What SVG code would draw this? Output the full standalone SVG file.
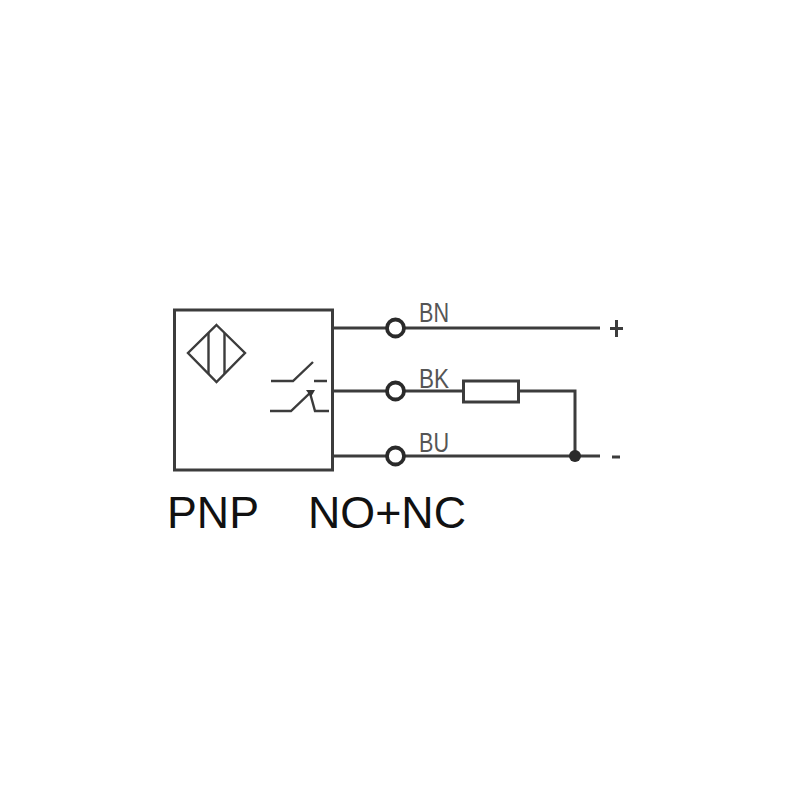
<svg xmlns="http://www.w3.org/2000/svg" width="800" height="800" viewBox="0 0 800 800">
<style>
.l{fill:none;stroke:#3c3c3c;stroke-width:3;stroke-linejoin:miter}
.t{stroke-width:2.400}
.c{fill:#fff;stroke:#2a2a2a;stroke-width:3.800}
.w{font-family:"Liberation Sans",Arial,sans-serif;font-size:27px;fill:#555}
.b{font-family:"Liberation Sans",Arial,sans-serif;font-size:44px;fill:#111}
</style>
<rect width="800" height="800" fill="#fff"/>
<g id="connectors">
<path class="l" d="M333 328H600"/>
<path class="l" d="M333 391H463M519 391H575V456"/>
<path class="l" d="M333 456H600"/>
</g>
<g id="sensor">
<rect class="l" x="174.500" y="310" width="158" height="160"/>
<path class="l t" d="M216.500 325L245 353L216.500 382L188 353Z"/>
<path class="l t" d="M208.500 333V374M224.500 333V374"/>
<path class="l t" d="M271 381H293L313 362M314 381H327"/>
<path class="l t" d="M270 411H291L310 393L315 411H329"/>
<path d="M306 390H315L311 397Z" fill="#333"/>
</g>
<g id="terminal-bn"><circle class="c" cx="395.500" cy="328" r="8.500"/><text class="w" x="419" y="322" textLength="30" lengthAdjust="spacingAndGlyphs">BN</text></g>
<g id="terminal-bk"><circle class="c" cx="395.500" cy="391" r="8.500"/><text class="w" x="419" y="387.500" textLength="30" lengthAdjust="spacingAndGlyphs">BK</text></g>
<g id="terminal-bu"><circle class="c" cx="395.500" cy="456" r="8.500"/><text class="w" x="419" y="451.500" textLength="30" lengthAdjust="spacingAndGlyphs">BU</text></g>
<g id="resistor"><rect class="l" x="463.500" y="381" width="55" height="21"/></g>
<g id="junction"><circle cx="575" cy="456" r="6" fill="#2a2a2a"/></g>
<g id="supply-plus"><path class="l" d="M610 328.500H623M616.500 320V337"/></g>
<g id="supply-minus"><path class="l" d="M612 457H620"/></g>
<text class="b" x="167" y="528" textLength="92" lengthAdjust="spacingAndGlyphs">PNP</text>
<text class="b" x="308" y="528" textLength="158" lengthAdjust="spacingAndGlyphs">NO+NC</text>
</svg>
